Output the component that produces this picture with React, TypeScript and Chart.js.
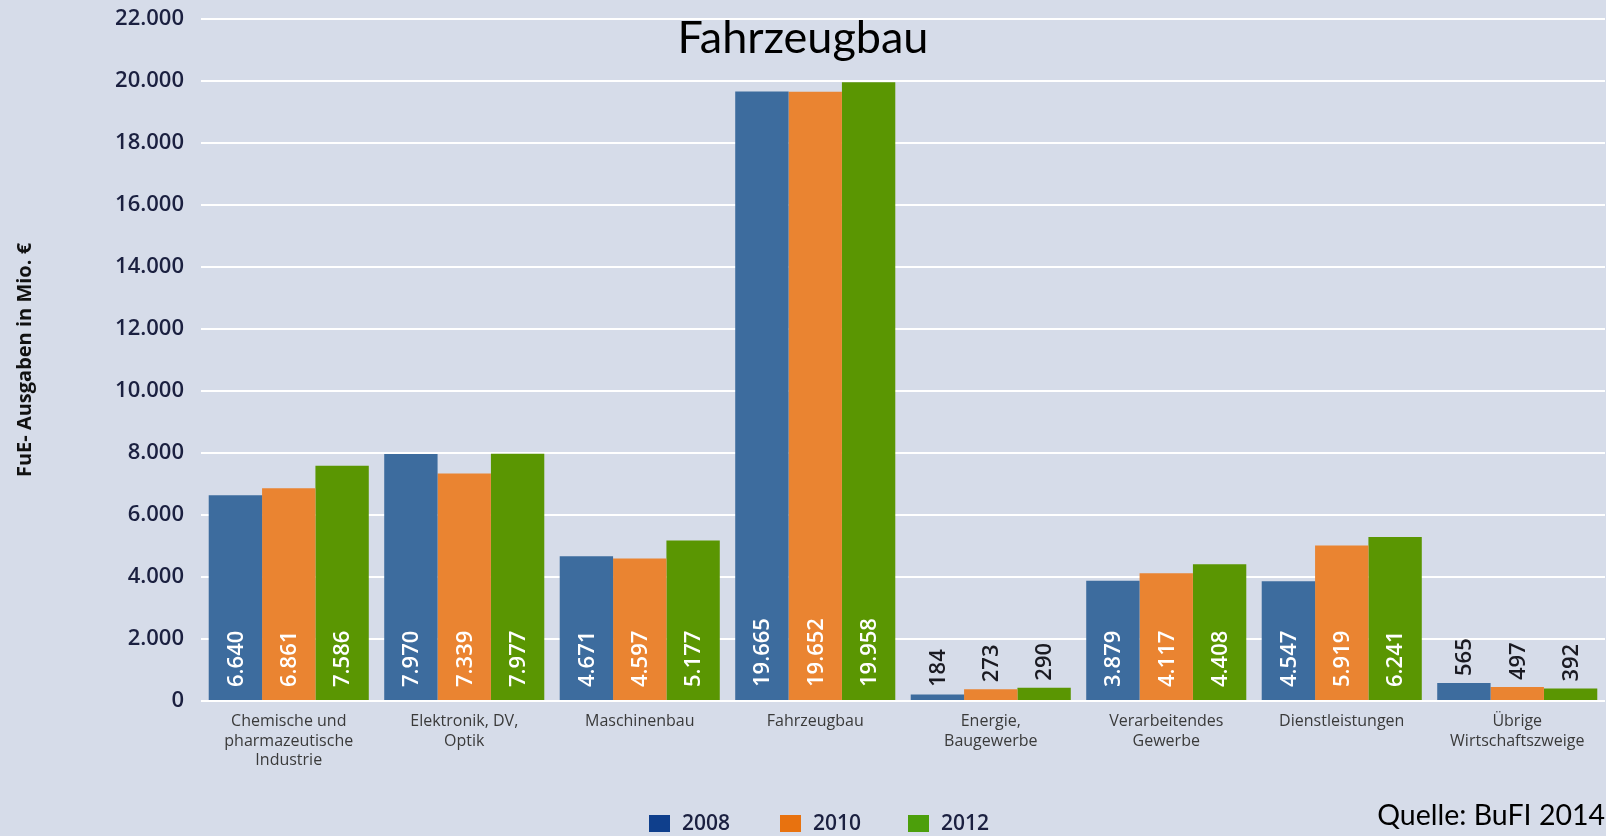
import React, { useEffect, useRef } from "react";
import { Chart, registerables } from "chart.js";

Chart.register(...registerables);

const categories: (string | string[])[] = [
  ["Chemische und", "pharmazeutische", "Industrie"],
  ["Elektronik, DV,", "Optik"],
  "Maschinenbau",
  "Fahrzeugbau",
  ["Energie,", "Baugewerbe"],
  ["Verarbeitendes", "Gewerbe"],
  "Dienstleistungen",
  ["Übrige", "Wirtschaftszweige"],
];

const seriesNames = ["2008", "2010", "2012"];

// bar heights as drawn in the picture
const bars2008 = [6640, 7970, 4671, 19665, 210, 3879, 3860, 580];
const bars2010 = [6861, 7339, 4597, 19652, 380, 4117, 5020, 450];
const bars2012 = [7586, 7977, 5177, 19958, 430, 4408, 5290, 400];

// value labels as printed on the bars
const labels2008 = ["6.640", "7.970", "4.671", "19.665", "184", "3.879", "4.547", "565"];
const labels2010 = ["6.861", "7.339", "4.597", "19.652", "273", "4.117", "5.919", "497"];
const labels2012 = ["7.586", "7.977", "5.177", "19.958", "290", "4.408", "6.241", "392"];

const yMin = 0;
const yMax = 22000;
const yStep = 2000;

const chartTitle = "Fahrzeugbau";
const yTitle = "FuE- Ausgaben in Mio. €";
const sourceNote = "Quelle: BuFI 2014";

const barColors = ["#3d6c9e", "#ea8431", "#5a9602"];
const legendColors = ["#0f3f8c", "#e8720f", "#4c9f0b"];
const bgColor = "#d6dce9";

const fmt = (v: number) => String(v).replace(/\B(?=(\d{3})+(?!\d))/g, ".");

const allLabels = [labels2008, labels2010, labels2012];

const bgPlugin = {
  id: "bgFill",
  beforeDraw(chart: any) {
    const { ctx, width, height } = chart;
    ctx.save();
    ctx.fillStyle = bgColor;
    ctx.fillRect(0, 0, width, height);
    ctx.restore();
  },
};

const valueLabelPlugin = {
  id: "valueLabels",
  afterDatasetsDraw(chart: any) {
    const { ctx } = chart;
    chart.data.datasets.forEach((ds: any, di: number) => {
      const meta = chart.getDatasetMeta(di);
      meta.data.forEach((el: any, i: number) => {
        const txt = allLabels[di][i];
        const base = el.base;
        const top = el.y;
        const tall = base - top > 70;
        const yStart = tall ? base - 13 : Math.min(base - 13, top - 7);
        ctx.save();
        ctx.translate(el.x, yStart);
        ctx.rotate(-Math.PI / 2);
        ctx.font = "600 22px 'Open Sans'";
        ctx.textAlign = "left";
        ctx.textBaseline = "middle";
        ctx.fillStyle = tall ? "#ffffff" : "#1a1a22";
        ctx.fillText(txt, 0, 1);
        ctx.restore();
      });
    });
  },
};

const overlayPlugin = {
  id: "overlayTexts",
  afterDraw(chart: any) {
    const { ctx, width } = chart;
    ctx.save();
    // title
    ctx.font = "45px Lato";
    ctx.fillStyle = "#000000";
    ctx.textAlign = "center";
    ctx.textBaseline = "alphabetic";
    ctx.fillText(chartTitle, width / 2, 53);
    // source
    ctx.font = "28.5px Lato";
    ctx.textAlign = "right";
    ctx.fillText(sourceNote, width - 1, 825);
    // legend
    const boxX = [649, 780, 908];
    ctx.font = "600 21px 'Open Sans'";
    ctx.textAlign = "left";
    ctx.textBaseline = "middle";
    chart.data.datasets.forEach((ds: any, i: number) => {
      ctx.fillStyle = legendColors[i];
      ctx.fillRect(boxX[i], 815, 21, 17);
      ctx.fillStyle = "#1b2040";
      ctx.fillText(ds.label, boxX[i] + 33, 824);
    });
    ctx.restore();
  },
};

export default function App() {
  const ref = useRef<HTMLCanvasElement | null>(null);

  useEffect(() => {
    document.body.style.margin = "0";
    document.body.style.background = bgColor;
    const canvas = ref.current;
    if (!canvas) return;
    const seriesData = [bars2008, bars2010, bars2012];
    const chart = new Chart(canvas, {
      type: "bar",
      data: {
        labels: categories,
        datasets: seriesNames.map((name, i) => ({
          label: name,
          data: seriesData[i],
          backgroundColor: barColors[i],
          borderWidth: 0,
          barPercentage: 1,
          categoryPercentage: 0.912,
        })),
      },
      options: {
        animation: false,
        responsive: false,
        layout: { padding: { top: 19, right: 1, bottom: 0, left: 0 } },
        plugins: {
          legend: { display: false },
          title: { display: false },
          tooltip: { enabled: false },
        },
        scales: {
          x: {
            grid: { display: false },
            border: { display: false },
            ticks: {
              autoSkip: false,
              maxRotation: 0,
              minRotation: 0,
              padding: 3,
              color: "#3a3a3a",
              font: { family: "'Open Sans'", size: 16, lineHeight: 1.22 },
            },
            afterFit: (axis: any) => {
              axis.height = 135;
            },
          },
          y: {
            min: yMin,
            max: yMax,
            grid: { color: "#ffffff", lineWidth: 2, drawTicks: false },
            border: { display: false },
            ticks: {
              stepSize: yStep,
              padding: 17,
              color: "#1b2040",
              font: { family: "'Open Sans'", size: 22, weight: "600" },
              callback: (v: any) => fmt(Number(v)),
            },
            title: {
              display: true,
              text: yTitle,
              color: "#111111",
              font: { family: "'Open Sans'", size: 20, weight: "bold" },
              padding: { top: 13, bottom: 0 },
            },
            afterFit: (axis: any) => {
              axis.width = 201;
              axis.paddingTop = 0;
              axis.paddingBottom = 0;
            },
          },
        },
      },
      plugins: [bgPlugin, valueLabelPlugin, overlayPlugin],
    });
    return () => chart.destroy();
  }, []);

  return (
    <div style={{ width: 1606, height: 836, background: bgColor }}>
      <canvas ref={ref} width={1606} height={836} style={{ display: "block" }} />
    </div>
  );
}
